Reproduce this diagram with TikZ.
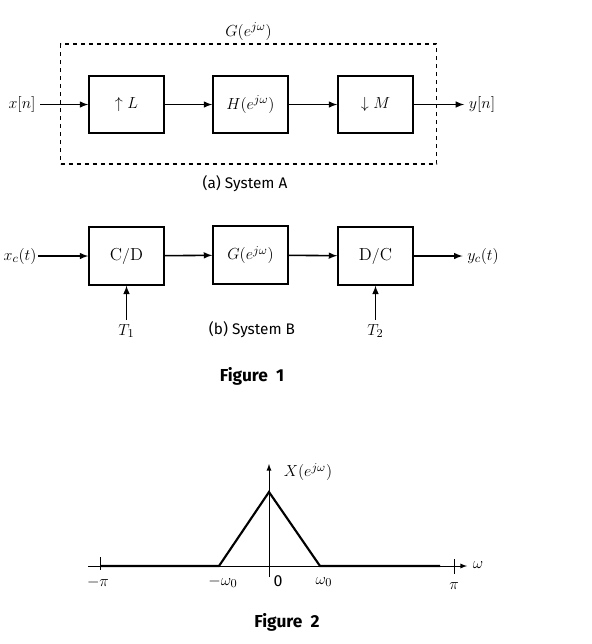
\documentclass[tikz,border=0pt]{standalone}
\usepackage{fontspec}
\setsansfont{Fira Sans}
\usetikzlibrary{calc}

\newcommand{\lbl}{\fontsize{13}{15}\selectfont}

\tikzset{
  blk/.style={draw=black, line width=1.3pt, minimum width=56pt, minimum height=43pt, font=\lbl},
  sig/.style={-latex, line width=1.2pt},
}

\begin{document}
\begin{tikzpicture}[x=0.75pt, y=-0.75pt]
  \useasboundingbox (0,0) rectangle (592,644);

  % system A
  \node[draw=black, dashed, line width=1.2pt, minimum width=282pt, minimum height=90pt] (ga) at (248.5,104) {};
  \node[above, inner sep=2pt, font=\lbl] (gal) at (ga.north) {$G\bigl(e^{j\omega}\bigr)$};

  \node[blk] (up) at (126.5,104.5) {$\uparrow L$};
  \node[blk] (h) at (250.5,104.5) {$H\bigl(e^{j\omega}\bigr)$};
  \node[blk] (down) at (375.5,104.5) {$\downarrow M$};

  \node[font=\lbl] (xn) at (22,104.5) {$x[n]$};
  \node[font=\lbl] (yn) at (482,104.5) {$y[n]$};

  \draw[sig] (xn) -- (up);
  \draw[sig] (up) -- (h);
  \draw[sig] (h) -- (down);
  \draw[sig] (down) -- (yn);

  \node[font=\sffamily\fontsize{11.5}{13}\selectfont] (capa) at (245,184) {(a) System A};

  % system B
  \node[blk] (cd) at (126.5,256) {$\mathrm{C/D}$};
  \node[blk] (gb) at (250.5,255) {$G\bigl(e^{j\omega}\bigr)$};
  \node[blk] (dc) at (375.5,256) {$\mathrm{D/C}$};

  \node[font=\lbl, inner sep=1pt] (xc) at (20,256) {$x_c(t)$};
  \node[font=\lbl] (yc) at (483,256) {$y_c(t)$};

  \node[font=\lbl] (t1) at (126.5,331) {$T_1$};
  \node[font=\lbl] (t2) at (375.5,331) {$T_2$};

  \draw[sig] (xc) -- (cd);
  \draw[sig] (cd) -- (gb);
  \draw[sig] (gb) -- (dc);
  \draw[sig] (dc) -- (yc);
  \draw[sig] (t1) -- (cd);
  \draw[sig] (t2) -- (dc);

  \node[font=\sffamily\fontsize{11.5}{13}\selectfont] (capb) at (252,330) {(b) System B};
  \node[font=\sffamily\bfseries\fontsize{13}{15}\selectfont] (fig1) at (252,376) {Figure\ \ 1};

  % spectrum
  \coordinate (wl) at (88,566);
  \coordinate (wr) at (467,566);
  \coordinate (o) at (269,566);
  \coordinate (ob) at (269,577);
  \coordinate (ot) at (269,464);
  \coordinate (mpi) at (100,566);
  \coordinate (ppi) at (454,566);
  \coordinate (mw0) at (219,566);
  \coordinate (pw0) at (320,566);
  \coordinate (pk) at (269,492);
  \coordinate (sr) at (440,566);

  \draw[-latex, line width=0.7pt] (wl) -- (wr);
  \draw[-latex, line width=0.7pt] (ob) -- (ot);
  \draw[line width=1.6pt] (mpi) -- (mw0) -- (pk) -- (pw0) -- (sr);
  \draw[line width=0.7pt] ($(mpi)+(0,-9)$) -- ($(mpi)+(0,4)$);
  \draw[line width=0.7pt] ($(ppi)+(0,-7)$) -- ($(ppi)+(0,8)$);

  \node[font=\lbl] (lmpi) at (98,582) {$-\pi$};
  \node[font=\lbl] (lmw0) at (223,582) {$-\omega_0$};
  \node[font=\sffamily\fontsize{12}{14}\selectfont] (l0) at (278,581) {0};
  \node[font=\lbl] (lpw0) at (324,582) {$\omega_0$};
  \node[font=\lbl] (lppi) at (454,586) {$\pi$};
  \node[font=\lbl] (lw) at (478,565) {$\omega$};
  \node[font=\lbl] (lx) at (308,472) {$X\bigl(e^{j\omega}\bigr)$};

  \node[font=\sffamily\bfseries\fontsize{13}{15}\selectfont] (fig2) at (287,622) {Figure\ \ 2};
\end{tikzpicture}
\end{document}
